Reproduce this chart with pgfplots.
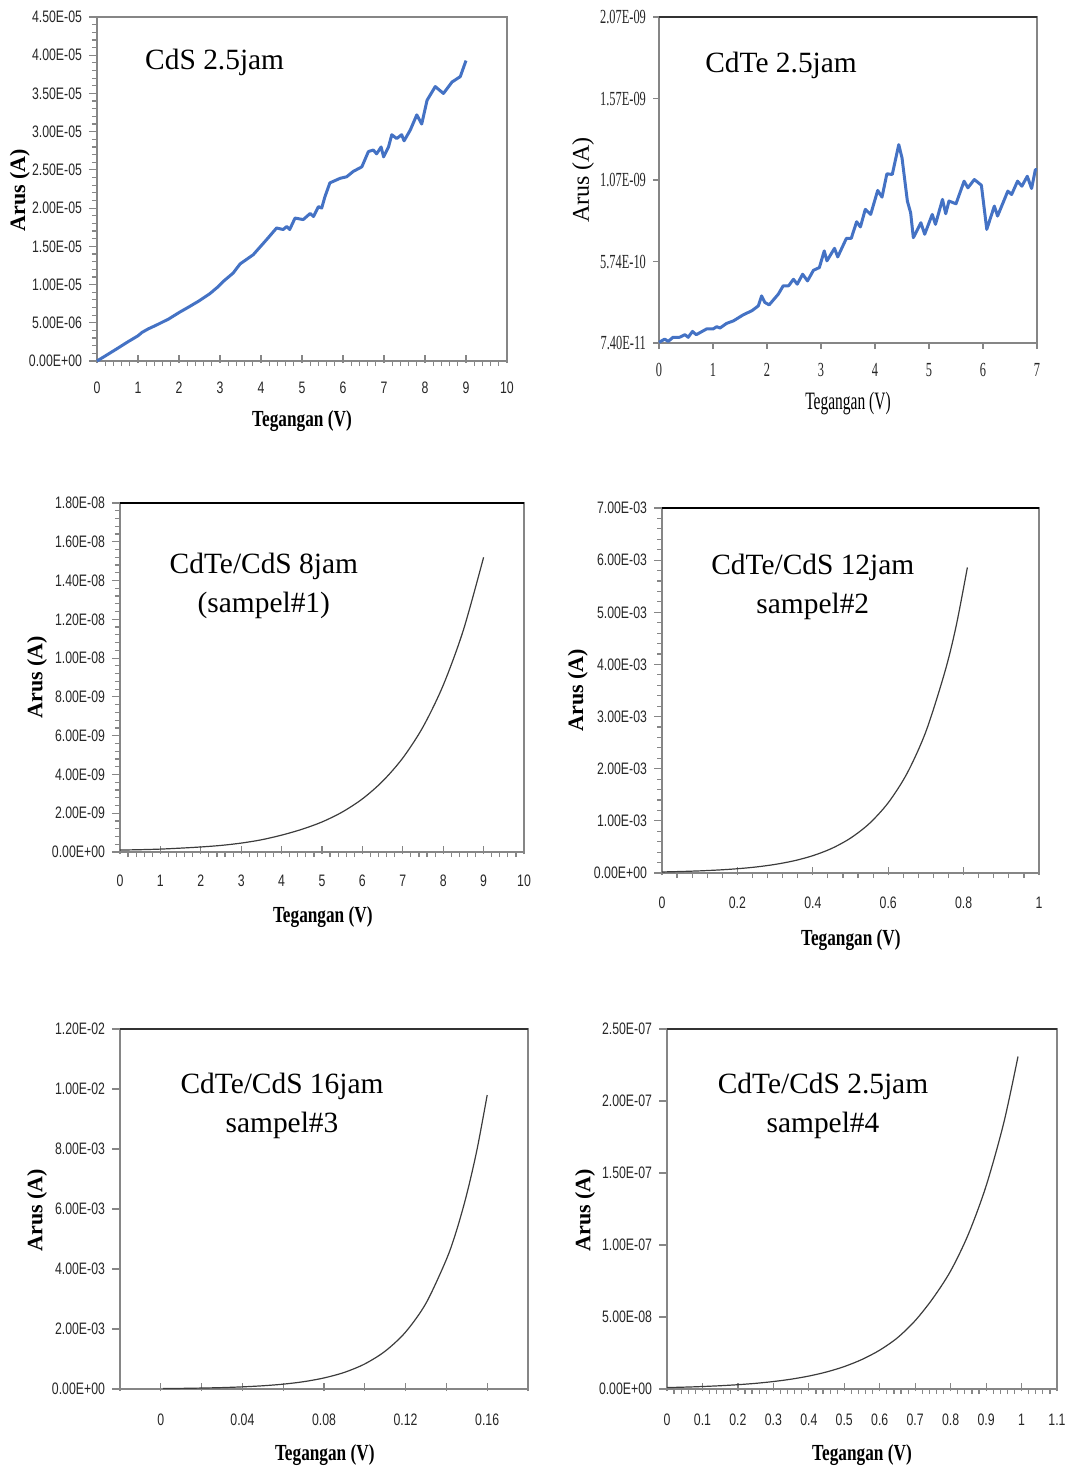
\documentclass[border=0pt]{standalone}
\usepackage{pgfplots}
\pgfplotsset{compat=1.18}
\usepackage{fontspec}
\setmainfont{Liberation Serif}
\newfontfamily\tickfont[FakeStretch=0.74]{Liberation Sans}
\newfontfamily\narrowserif[FakeStretch=0.62]{Liberation Serif}
\newfontfamily\labfont[FakeStretch=0.75]{Liberation Serif}
\definecolor{exblue}{RGB}{68,114,196}
\definecolor{axgray}{RGB}{134,134,134}
\definecolor{curvec}{RGB}{60,60,60}
\tikzset{ttl/.style={font=\fontsize{14.7}{19.5}\selectfont, align=center}}
\pgfplotsset{
  exstyle/.style={
    scale only axis, anchor=south west,
    scaled x ticks=false, scaled y ticks=false,
    axis line style={axgray, line width=0.6pt},
    tick style={axgray, line width=0.6pt},
    tick align=outside,
    major tick length=4pt, minor tick length=2.5pt,
    xtick pos=bottom, ytick pos=left,
    ticklabel style={font=\tickfont\fontsize{8.3}{9}\selectfont, text=black!85},
    /pgf/number format/assume math mode=true,
    xlabel style={font=\labfont\bfseries\fontsize{11.5}{12}\selectfont, anchor=center},
    ylabel style={font=\bfseries\fontsize{11}{12}\selectfont, anchor=center},
    clip=false,
  },
  crossx/.style={every major x tick/.append style={yshift=3pt}},
}
\begin{document}
\begin{tikzpicture}
\useasboundingbox (0pt,0pt) rectangle (537.5pt,-736pt);

% ---------- Panel 1: CdS 2.5jam ----------
\begin{axis}[exstyle, crossx,
  at={(48.5pt,-180.5pt)}, width=205pt, height=172pt,
  xmin=0, xmax=10, ymin=0, ymax=4.5e-5,
  xtick={0,1,...,10}, minor x tick num=4,
  xticklabel style={yshift=-3pt},
  ytick={0,5e-6,1e-5,1.5e-5,2e-5,2.5e-5,3e-5,3.5e-5,4e-5,4.5e-5},
  yticklabels={0.00E+00,5.00E-06,1.00E-05,1.50E-05,2.00E-05,2.50E-05,3.00E-05,3.50E-05,4.00E-05,4.50E-05},
  minor y tick num=4,
  xlabel={Tegangan (V)}, ylabel={Arus (A)},
  xlabel style={at={(axis description cs:0.5,-0.174)}},
  ylabel style={at={(axis description cs:-0.188,0.497)}},
]
\addplot[exblue, line width=1.5pt, line join=round] coordinates {
(0,0) (0.25,0.82e-6) (0.5,1.65e-6) (0.75,2.5e-6) (1.0,3.3e-6) (1.1,3.75e-6)
(1.25,4.2e-6) (1.45,4.7e-6) (1.75,5.5e-6) (2.02,6.4e-6) (2.25,7.1e-6) (2.5,7.9e-6)
(2.75,8.8e-6) (2.95,9.7e-6) (3.1,10.5e-6) (3.32,11.5e-6) (3.49,12.7e-6)
(3.81,13.9e-6) (4.14,15.9e-6) (4.38,17.4e-6) (4.54,17.2e-6) (4.63,17.6e-6)
(4.7,17.2e-6) (4.83,18.7e-6) (5.03,18.5e-6) (5.2,19.3e-6) (5.28,18.9e-6)
(5.4,20.2e-6) (5.48,20.0e-6) (5.56,21.5e-6) (5.68,23.3e-6) (5.93,23.9e-6)
(6.09,24.1e-6) (6.25,24.8e-6) (6.46,25.4e-6) (6.62,27.4e-6) (6.74,27.6e-6)
(6.82,27.1e-6) (6.93,28.0e-6) (6.99,26.7e-6) (7.11,28.0e-6) (7.19,29.6e-6)
(7.31,29.1e-6) (7.43,29.6e-6) (7.49,28.8e-6) (7.64,30.2e-6) (7.8,32.2e-6)
(7.92,31.0e-6) (8.05,34.1e-6) (8.25,35.9e-6) (8.45,35.0e-6) (8.66,36.5e-6)
(8.86,37.2e-6) (9.0,39.3e-6)
};
\node[ttl] at (rel axis cs:0.287,0.869) {CdS 2.5jam};
\end{axis}

% ---------- Panel 2: CdTe 2.5jam ----------
\begin{axis}[exstyle,
  at={(329.5pt,-171.5pt)}, width=189pt, height=163pt,
  xmin=0, xmax=7, ymin=7.4e-11, ymax=2.074e-9,
  xtick={0,1,...,7},
  ytick={7.4e-11,5.74e-10,1.074e-9,1.574e-9,2.074e-9},
  yticklabels={7.40E-11,5.74E-10,1.07E-09,1.57E-09,2.07E-09},
  major tick length=3pt,
  ticklabel style={font=\narrowserif\fontsize{10}{11}\selectfont},
  xticklabel style={yshift=-3.5pt},
  xlabel={Tegangan (V)}, ylabel={Arus (A)},
  xlabel style={font=\narrowserif\fontsize{12.5}{13}\selectfont, at={(axis description cs:0.5,-0.187)}},
  ylabel style={font=\fontsize{12}{13}\selectfont, at={(axis description cs:-0.201,0.5)}},
]
\addplot[exblue, line width=1.5pt, line join=round] coordinates {
(0,0.078e-9) (0.105,0.098e-9) (0.17,0.084e-9) (0.26,0.109e-9) (0.38,0.109e-9)
(0.48,0.125e-9) (0.54,0.109e-9) (0.62,0.145e-9) (0.69,0.125e-9) (0.88,0.16e-9)
(1.0,0.16e-9) (1.07,0.174e-9) (1.13,0.166e-9) (1.25,0.194e-9) (1.38,0.21e-9)
(1.56,0.247e-9) (1.72,0.272e-9) (1.84,0.302e-9) (1.9,0.363e-9) (1.96,0.323e-9)
(2.04,0.308e-9) (2.21,0.374e-9) (2.3,0.425e-9) (2.4,0.425e-9) (2.49,0.465e-9)
(2.56,0.435e-9) (2.66,0.496e-9) (2.75,0.455e-9) (2.86,0.52e-9) (2.97,0.537e-9)
(3.06,0.639e-9) (3.11,0.578e-9) (3.25,0.655e-9) (3.31,0.602e-9) (3.47,0.716e-9)
(3.56,0.716e-9) (3.66,0.818e-9) (3.73,0.786e-9) (3.82,0.894e-9) (3.92,0.863e-9)
(4.05,1.01e-9) (4.13,0.969e-9) (4.22,1.112e-9) (4.32,1.108e-9) (4.44,1.291e-9)
(4.5,1.21e-9) (4.6,0.944e-9) (4.66,0.873e-9) (4.71,0.72e-9) (4.85,0.812e-9)
(4.92,0.741e-9) (5.06,0.863e-9) (5.12,0.802e-9) (5.25,0.955e-9) (5.31,0.867e-9)
(5.37,0.945e-9) (5.5,0.928e-9) (5.65,1.067e-9) (5.72,1.026e-9) (5.84,1.077e-9)
(5.97,1.042e-9) (6.07,0.771e-9) (6.21,0.914e-9) (6.27,0.853e-9) (6.46,1.006e-9)
(6.53,0.985e-9) (6.64,1.067e-9) (6.72,1.036e-9) (6.82,1.097e-9) (6.9,1.022e-9)
(6.97,1.138e-9) (7.0,1.138e-9)
};
\draw[black!80, line width=0.6pt] (rel axis cs:0,1) -- (rel axis cs:1,1);
\node[ttl] at (rel axis cs:0.323,0.85) {CdTe 2.5jam};
\end{axis}

% ---------- Panel 3: CdTe/CdS 8jam ----------
\begin{axis}[exstyle, crossx,
  at={(60pt,-426pt)}, width=202pt, height=174.5pt,
  xmin=0, xmax=10, ymin=0, ymax=1.8e-8,
  xtick={0,1,...,10}, minor x tick num=4,
  xticklabel style={yshift=-4pt},
  ytick={0,2e-9,4e-9,6e-9,8e-9,1e-8,1.2e-8,1.4e-8,1.6e-8,1.8e-8},
  yticklabels={0.00E+00,2.00E-09,4.00E-09,6.00E-09,8.00E-09,1.00E-08,1.20E-08,1.40E-08,1.60E-08,1.80E-08},
  minor y tick num=4,
  xlabel={Tegangan (V)}, ylabel={Arus (A)},
  xlabel style={at={(axis description cs:0.502,-0.186)}},
  ylabel style={at={(axis description cs:-0.205,0.501)}},
]
\addplot[curvec, line width=0.6pt, smooth] coordinates {
(0,0.10e-9) (0.5,0.12e-9) (1,0.15e-9) (1.5,0.20e-9) (2,0.26e-9) (2.5,0.34e-9)
(3,0.46e-9) (3.5,0.63e-9) (4,0.87e-9) (4.5,1.17e-9) (5,1.55e-9) (5.5,2.06e-9)
(6,2.74e-9) (6.5,3.65e-9) (7,4.85e-9) (7.5,6.45e-9) (8,8.6e-9) (8.5,11.45e-9)
(9,15.2e-9)
};
\draw[black, line width=0.8pt] (rel axis cs:0,1) -- (rel axis cs:1,1);
\node[ttl] at (rel axis cs:0.356,0.761) {CdTe/CdS 8jam\\(sampel\#1)};
\end{axis}

% ---------- Panel 4: CdTe/CdS 12jam ----------
\begin{axis}[exstyle, crossx,
  at={(331pt,-436.5pt)}, width=188.5pt, height=182.5pt,
  xmin=0, xmax=1, ymin=0, ymax=7e-3,
  xtick={0,0.2,0.4,0.6,0.8,1}, xticklabels={0,0.2,0.4,0.6,0.8,1},
  minor x tick num=4,
  xticklabel style={yshift=-4.5pt},
  ytick={0,1e-3,2e-3,3e-3,4e-3,5e-3,6e-3,7e-3},
  yticklabels={0.00E+00,1.00E-03,2.00E-03,3.00E-03,4.00E-03,5.00E-03,6.00E-03,7.00E-03},
  minor y tick num=4,
  xlabel={Tegangan (V)}, ylabel={Arus (A)},
  xlabel style={at={(axis description cs:0.501,-0.184)}},
  ylabel style={at={(axis description cs:-0.223,0.501)}},
]
\addplot[curvec, line width=0.6pt, smooth] coordinates {
(0,0.020e-3) (0.05,0.029e-3) (0.1,0.041e-3) (0.15,0.058e-3) (0.2,0.082e-3)
(0.25,0.116e-3) (0.3,0.165e-3) (0.35,0.234e-3) (0.4,0.332e-3) (0.45,0.471e-3)
(0.5,0.669e-3) (0.55,0.949e-3) (0.6,1.347e-3) (0.65,1.911e-3) (0.7,2.713e-3)
(0.75,3.85e-3) (0.78,4.73e-3) (0.81,5.86e-3)
};
\draw[black, line width=0.8pt] (rel axis cs:0,1) -- (rel axis cs:1,1);
\node[ttl] at (rel axis cs:0.40,0.785) {CdTe/CdS 12jam\\sampel\#2};
\end{axis}

% ---------- Panel 5: CdTe/CdS 16jam ----------
\begin{axis}[exstyle, crossx,
  at={(60pt,-694.5pt)}, width=204pt, height=180pt,
  xmin=-0.02, xmax=0.18, ymin=0, ymax=1.2e-2,
  xtick={0,0.04,0.08,0.12,0.16}, xticklabels={0,0.04,0.08,0.12,0.16},
  minor xtick={-0.02,0.02,0.06,0.10,0.14,0.18},
  every minor x tick/.append style={yshift=3pt},
  minor tick length=4pt,
  xticklabel style={yshift=-5pt},
  ytick={0,2e-3,4e-3,6e-3,8e-3,1e-2,1.2e-2},
  yticklabels={0.00E+00,2.00E-03,4.00E-03,6.00E-03,8.00E-03,1.00E-02,1.20E-02},
  xlabel={Tegangan (V)}, ylabel={Arus (A)},
  xlabel style={at={(axis description cs:0.502,-0.183)}},
  ylabel style={at={(axis description cs:-0.203,0.497)}},
]
\addplot[curvec, line width=0.6pt, smooth] coordinates {
(0.001,0.014e-3) (0.01,0.021e-3) (0.02,0.032e-3) (0.03,0.047e-3) (0.04,0.072e-3)
(0.05,0.108e-3) (0.06,0.162e-3) (0.07,0.244e-3) (0.08,0.369e-3) (0.09,0.555e-3)
(0.10,0.837e-3) (0.11,1.262e-3) (0.12,1.90e-3) (0.13,2.86e-3) (0.14,4.32e-3)
(0.145,5.29e-3) (0.15,6.50e-3) (0.155,7.98e-3) (0.16,9.80e-3)
};
\draw[black!80, line width=0.6pt] (rel axis cs:0,1) -- (rel axis cs:1,1);
\node[ttl] at (rel axis cs:0.397,0.785) {CdTe/CdS 16jam\\sampel\#3};
\end{axis}

% ---------- Panel 6: CdTe/CdS 2.5jam ----------
\begin{axis}[exstyle, crossx,
  at={(333.5pt,-694.5pt)}, width=195pt, height=180pt,
  xmin=0, xmax=1.1, ymin=0, ymax=2.5e-7,
  xtick={0,0.1,...,1.1}, xticklabels={0,0.1,0.2,0.3,0.4,0.5,0.6,0.7,0.8,0.9,1,1.1},
  minor x tick num=4,
  xticklabel style={yshift=-5pt},
  ytick={0,5e-8,1e-7,1.5e-7,2e-7,2.5e-7},
  yticklabels={0.00E+00,5.00E-08,1.00E-07,1.50E-07,2.00E-07,2.50E-07},
  xlabel={Tegangan (V)}, ylabel={Arus (A)},
  xlabel style={at={(axis description cs:0.5,-0.183)}},
  ylabel style={at={(axis description cs:-0.21,0.497)}},
]
\addplot[curvec, line width=0.6pt, smooth] coordinates {
(0,0.100e-8) (0.05,0.131e-8) (0.1,0.173e-8) (0.15,0.228e-8) (0.2,0.300e-8)
(0.25,0.394e-8) (0.3,0.519e-8) (0.35,0.683e-8) (0.4,0.900e-8) (0.45,1.184e-8)
(0.5,1.559e-8) (0.55,2.054e-8) (0.6,2.70e-8) (0.65,3.56e-8) (0.7,4.75e-8)
(0.75,6.3e-8) (0.8,8.2e-8) (0.85,10.75e-8) (0.9,14.1e-8) (0.95,18.5e-8)
(0.99,23.09e-8)
};
\draw[black!80, line width=0.6pt] (rel axis cs:0,1) -- (rel axis cs:1,1);
\node[ttl] at (rel axis cs:0.40,0.785) {CdTe/CdS 2.5jam\\sampel\#4};
\end{axis}
\end{tikzpicture}
\end{document}
